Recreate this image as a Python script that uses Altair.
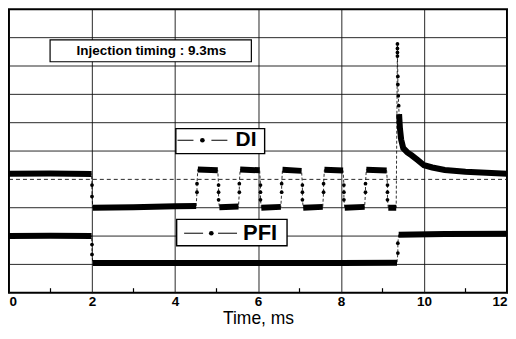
import altair as alt
import pandas as pd

FONT = "Liberation Sans"

# ---------------- data ----------------
# DI trace in path order; seg >= 0 -> dense plateau samples, -1 -> sparse transition samples
di_time = [0.00, 1.00, 1.99,
           2.00, 2.00,
           2.02, 3.00, 4.00, 4.51,
           4.53, 4.53,
           4.55, 5.03,
           5.05, 5.05, 5.05,
           5.07, 5.53,
           5.55, 5.55,
           5.57, 6.04,
           6.06, 6.06, 6.06,
           6.08, 6.55,
           6.57, 6.57,
           6.59, 7.05,
           7.07, 7.07, 7.07,
           7.09, 7.56,
           7.58, 7.58,
           7.60, 8.05,
           8.07, 8.07, 8.07,
           8.09, 8.57,
           8.59, 8.59,
           8.61, 9.10,
           9.12, 9.12, 9.12,
           9.14, 9.33,
           9.36, 9.36, 9.36, 9.36,
           9.37, 9.37, 9.38, 9.39,
           9.40, 9.42, 9.45, 9.50, 9.60, 9.70, 9.85, 10.00, 10.20, 10.50, 11.00, 11.50, 12.00]
di_value = [4.20, 4.21, 4.19,
            3.80, 3.40,
            3.00, 3.02, 3.05, 3.06,
            3.55, 3.85,
            4.35, 4.32,
            3.80, 3.55, 3.28,
            3.02, 3.04,
            3.55, 3.85,
            4.35, 4.32,
            3.80, 3.55, 3.28,
            3.00, 3.03,
            3.55, 3.85,
            4.34, 4.30,
            3.80, 3.55, 3.28,
            3.00, 3.03,
            3.55, 3.85,
            4.34, 4.31,
            3.80, 3.55, 3.28,
            3.00, 3.03,
            3.55, 3.85,
            4.34, 4.31,
            3.80, 3.55, 3.28,
            3.00, 3.00,
            8.78, 8.62, 8.48, 8.35,
            7.63, 7.35, 6.95, 6.60,
            6.30, 5.80, 5.40, 5.10, 4.95, 4.85, 4.68, 4.50, 4.42, 4.33, 4.27, 4.23, 4.20]
di_seg = [0, 0, 0,
          -1, -1,
          1, 1, 1, 1,
          -1, -1,
          2, 2,
          -1, -1, -1,
          3, 3,
          -1, -1,
          4, 4,
          -1, -1, -1,
          5, 5,
          -1, -1,
          6, 6,
          -1, -1, -1,
          7, 7,
          -1, -1,
          8, 8,
          -1, -1, -1,
          9, 9,
          -1, -1,
          10, 10,
          -1, -1, -1,
          11, 11,
          -1, -1, -1, -1,
          -1, -1, -1, -1,
          13, 13, 13, 13, 13, 13, 13, 13, 13, 13, 13, 13, 13]

pfi_time = [0.00, 1.00, 1.99, 2.00, 2.00, 2.02, 4.00, 6.00, 8.00, 9.35, 9.37, 9.37, 9.39, 10.50, 12.00]
pfi_value = [2.00, 2.01, 2.00, 1.70, 1.35, 1.05, 1.05, 1.05, 1.05, 1.06, 1.40, 1.75, 2.05, 2.07, 2.08]
pfi_seg = [0, 0, 0, -1, -1, 1, 1, 1, 1, 1, -1, -1, 2, 2, 2]

x_ticks = [0, 2, 4, 6, 8, 10, 12]
minor_ticks = [1, 3, 5, 7, 9, 11]
y_grid_solid = [1, 2, 3, 5, 6, 7, 8, 9]
y_grid_dashed = [4]

note_text = "Injection timing : 9.3ms"
legend_labels = ["DI", "PFI"]

# ---------------- tables ----------------
rows = []
for name, ts, vs, ss in [("DI", di_time, di_value, di_seg), ("PFI", pfi_time, pfi_value, pfi_seg)]:
    for i, (t, v, s) in enumerate(zip(ts, vs, ss)):
        rows.append({"series": name, "t": t, "v": v, "seg": s, "key": f"{name}-{s}", "order": i})
df = pd.DataFrame(rows)

grid_solid = pd.DataFrame({"t": [0] * len(y_grid_solid), "t2": [12] * len(y_grid_solid), "v": y_grid_solid})
grid_dashed = pd.DataFrame({"t": [0], "t2": [12], "v": y_grid_dashed})

boxes = pd.DataFrame({
    "t": [0.99, 4.02, 4.04],
    "t2": [5.84, 6.16, 6.70],
    "v": [8.15, 4.91, 1.66],
    "v2": [8.92, 5.79, 2.59],
    "sw": [1.2, 1.4, 1.4],
})
note_df = pd.DataFrame({"t": [3.43], "v": [8.53], "label": [note_text]})
legend_df = pd.DataFrame({"t": [5.46, 5.64], "v": [5.38, 2.10], "label": legend_labels, "fs": [21, 22]})
sym_di = pd.DataFrame({"t": [4.06], "t2": [5.27], "v": [5.38]})
sym_pfi = pd.DataFrame({"t": [4.22], "t2": [5.50], "v": [2.10]})
sym_dots = pd.DataFrame({"t": [4.66, 4.875], "v": [5.38, 2.10]})
minor = pd.DataFrame({"t": minor_ticks, "v": [0] * len(minor_ticks), "v2": [0.16] * len(minor_ticks)})

# ---------------- encodings ----------------
x_scale = alt.Scale(domain=[0, 12], nice=False, zero=False)
y_scale = alt.Scale(domain=[0, 10], nice=False, zero=False)

x_axis = alt.Axis(
    values=x_ticks, format="d", grid=True, gridColor="#111", gridWidth=0.9,
    ticks=False, domain=False, labelFlush=True,
    labelFont=FONT, labelFontSize=13.5, labelFontWeight="bold", labelColor="black",
    labelPadding=2,
    title="Time, ms", titleFont=FONT, titleFontSize=17.5, titleFontWeight="normal",
    titleColor="black", titlePadding=1,
)

X = alt.X("t:Q", scale=x_scale, axis=x_axis)
Y = alt.Y("v:Q", scale=y_scale, axis=None)

grid1 = alt.Chart(grid_solid).mark_rule(color="#111", strokeWidth=0.9).encode(
    x=X, x2="t2:Q", y=Y)
grid2 = alt.Chart(grid_dashed).mark_rule(color="#111", strokeWidth=0.9, strokeDash=[4, 3]).encode(
    x=X, x2="t2:Q", y=Y)

base = alt.Chart(df)

thin = base.mark_line(color="black", strokeWidth=0.8, strokeDash=[3, 2], clip=True).encode(
    x=X, y=Y, detail="series:N", order="order:Q")
thick = base.transform_filter("datum.seg >= 0").mark_line(
    color="black", strokeWidth=6, strokeCap="butt", clip=True).encode(
    x=X, y=Y, detail="key:N", order="order:Q")
dots = base.transform_filter("datum.seg < 0").mark_circle(
    color="black", size=14, opacity=1, clip=True).encode(x=X, y=Y)

minor_layer = alt.Chart(minor).mark_rule(color="black", strokeWidth=1.2).encode(
    x=X, y=Y, y2="v2:Q")

box_layer = alt.Chart(boxes).mark_rect(fill="white", stroke="black").encode(
    x=X, x2="t2:Q", y=Y, y2="v2:Q",
    strokeWidth=alt.StrokeWidth("sw:Q", scale=None))

note_layer = alt.Chart(note_df).mark_text(
    font=FONT, fontWeight="bold", color="black", baseline="middle", align="center",
    fontSize=13.5).encode(x=X, y=Y, text="label:N")

legend_text = alt.Chart(legend_df).mark_text(
    font=FONT, fontWeight="bold", color="black", baseline="middle", align="left").encode(
    x=X, y=Y, text="label:N", size=alt.Size("fs:Q", scale=None))

sym1 = alt.Chart(sym_di).mark_rule(color="black", strokeWidth=1, strokeDash=[16, 18]).encode(
    x=X, x2="t2:Q", y=Y)
sym2 = alt.Chart(sym_pfi).mark_rule(color="black", strokeWidth=1, strokeDash=[19, 15]).encode(
    x=X, x2="t2:Q", y=Y)
sym_pts = alt.Chart(sym_dots).mark_circle(color="black", size=22, opacity=1).encode(x=X, y=Y)

chart = alt.layer(
    grid1, grid2, thin, thick, dots, minor_layer, box_layer, note_layer, legend_text,
    sym1, sym2, sym_pts
).properties(
    width=499, height=284,
    background="white",
    padding={"left": 0, "top": 1, "right": 0, "bottom": 0},
).configure_view(
    stroke="black", strokeWidth=2
)

chart.save("out.html", embed_options={"renderer": "svg", "actions": False})
